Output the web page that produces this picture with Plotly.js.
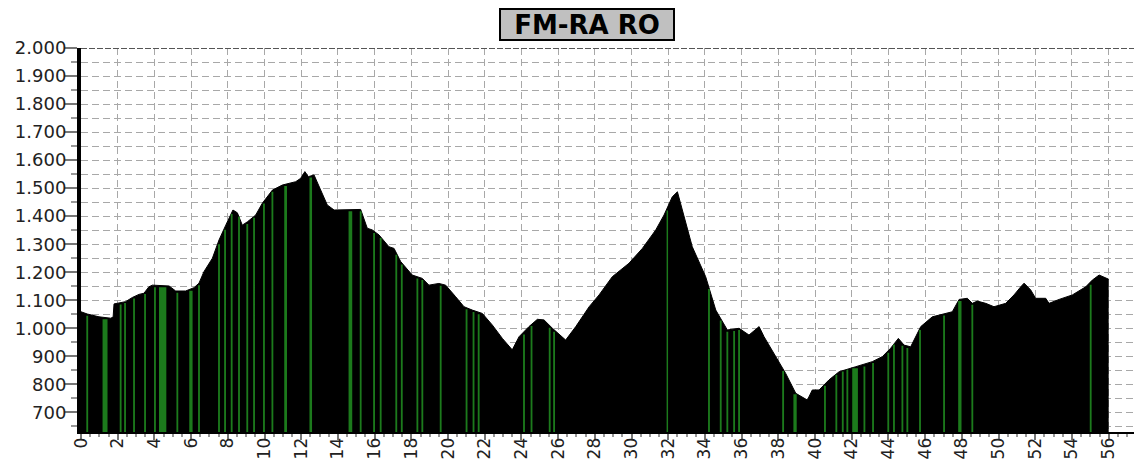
<!DOCTYPE html>
<html>
<head>
<meta charset="utf-8">
<script src="https://cdn.plot.ly/plotly-3.0.1.min.js"></script>
<style>html,body{margin:0;padding:0;background:#fff;}#chart{width:1134px;height:459px;}</style>
</head>
<body>
<div id="chart"></div>
<script>
// Elevation profile (km, metres)
const km = [0,0.34,0.98,1.62,1.75,1.8,2.43,2.8,3.16,3.43,3.7,3.89,4.8,5.16,5.7,6.16,6.43,6.7,7.16,7.52,7.89,8.28,8.52,8.79,9.07,9.52,9.88,10.43,10.97,11.7,11.97,12.2,12.39,12.7,13.42,13.79,15.24,15.6,15.87,16.24,16.78,17.06,17.42,18.05,18.6,18.96,19.5,19.87,20.41,20.87,21.32,21.87,22.41,22.96,23.5,23.87,24.41,24.87,25.23,25.69,26.41,26.96,27.69,28.23,28.95,29.86,30.59,31.32,31.77,32.22,32.5,32.77,33.31,34.04,34.59,35.22,35.86,36.4,36.95,37.22,37.86,38.4,38.95,39.58,39.85,40.22,40.76,41.31,42.22,43.12,43.67,44.12,44.54,44.85,45.21,45.76,46.39,47.12,47.48,47.85,48.3,48.57,48.84,49.3,49.75,50.39,50.84,51.21,51.39,51.75,52.02,52.57,52.75,53.3,54.02,54.75,55.11,55.48,55.93,56.0];
const elev = [1059,1051,1041,1036,1040,1087,1095,1110,1121,1125,1148,1154,1151,1133,1133,1145,1161,1202,1250,1315,1368,1422,1412,1368,1380,1404,1446,1493,1511,1523,1535,1559,1541,1547,1440,1422,1424,1357,1351,1333,1291,1285,1238,1190,1178,1154,1160,1154,1113,1077,1065,1053,1012,964,923,970,1006,1032,1030,1000,958,1006,1077,1119,1184,1232,1285,1351,1404,1469,1487,1422,1291,1184,1065,994,1000,976,1006,970,899,839,768,744,780,780,816,845,863,881,899,929,964,940,934,1006,1041,1053,1059,1103,1107,1089,1097,1089,1077,1089,1119,1148,1161,1137,1107,1107,1089,1103,1119,1148,1172,1190,1175,1175];

// Green markers (km, top elevation, width in km)
const greenKm = [0.34,1.31,2.16,2.40,2.89,3.49,4.03,4.45,5.25,5.99,6.43,7.52,7.85,8.21,8.61,9.06,9.43,9.97,10.43,11.15,12.52,14.68,15.24,15.97,16.33,17.18,17.48,18.33,18.6,19.6,21.01,21.39,21.67,24.14,24.55,25.54,25.78,31.95,34.22,34.86,35.22,35.59,35.86,38.26,38.91,40.54,41.16,41.51,41.76,42.18,42.69,43.16,43.99,44.3,44.76,45.03,45.72,47.03,47.89,48.57,55.02];
const greenTop = [1045,1032,1085,1090,1106,1122,1146,1146,1127,1134,1154,1300,1352,1408,1398,1372,1394,1445,1487,1508,1538,1418,1418,1340,1322,1262,1228,1178,1172,1152,1068,1058,1050,978,1008,1002,988,1420,1140,1028,988,990,994,848,765,795,834,846,852,857,864,876,913,942,938,930,994,1046,1097,1084,1155];
const greenW = [0.1,0.27,0.1,0.1,0.1,0.1,0.1,0.4,0.1,0.18,0.1,0.1,0.1,0.1,0.1,0.1,0.1,0.1,0.1,0.15,0.14,0.2,0.1,0.1,0.1,0.1,0.1,0.1,0.1,0.1,0.1,0.1,0.1,0.1,0.1,0.1,0.1,0.08,0.1,0.1,0.1,0.1,0.1,0.1,0.18,0.1,0.1,0.1,0.1,0.31,0.1,0.1,0.1,0.1,0.1,0.1,0.1,0.1,0.18,0.1,0.1];

const yTickVals = [700,800,900,1000,1100,1200,1300,1400,1500,1600,1700,1800,1900,2000];
const yTickText = ['700','800','900','1.000','1.100','1.200','1.300','1.400','1.500','1.600','1.700','1.800','1.900','2.000'];
const titleText = 'FM-RA RO';

const yMin = 630, yMax = 2000;

const gx = [], gy = [];
for (let i = 0; i < greenKm.length; i++) {
  const a = greenKm[i] - greenW[i] / 2, b = greenKm[i] + greenW[i] / 2;
  gx.push(a, b, b, a, a, null);
  gy.push(yMin, yMin, greenTop[i], greenTop[i], yMin, null);
}

const traces = [
  {x: km, y: elev, type: 'scatter', mode: 'lines', fill: 'tozeroy',
   fillcolor: '#000', line: {color: '#000', width: 1}, hoverinfo: 'skip'},
  {x: gx, y: gy, type: 'scatter', mode: 'lines', fill: 'toself',
   fillcolor: '#1c7a1c', line: {width: 0, color: 'rgba(0,0,0,0)'}, hoverinfo: 'skip'}
];

const gridStyle = {gridcolor: '#a8a8a8', gridwidth: 1, griddash: '7px,4px'};

const layout = {
  width: 1134, height: 459,
  margin: {l: 81, r: 0, t: 48, b: 27, pad: 0},
  paper_bgcolor: '#fff', plot_bgcolor: '#fff',
  showlegend: false,
  xaxis: Object.assign({
    range: [0, 57.38], tickmode: 'linear', tick0: 0, dtick: 2,
    tickangle: -90, ticks: 'outside', ticklen: 6, tickwidth: 2, tickcolor: '#777',
    ticklabelstandoff: -9,
    showline: true, linecolor: '#000', linewidth: 2, zeroline: false,
    showgrid: true, tickfont: {family: 'DejaVu Sans', size: 17, color: '#222'},
    minor: {dtick: 0.5, tick0: 0, ticks: 'outside', ticklen: 3, tickwidth: 2, tickcolor: '#999', showgrid: false}
  }, gridStyle),
  yaxis: Object.assign({
    range: [yMin, yMax], tickmode: 'array', tickvals: yTickVals, ticktext: yTickText,
    ticks: 'outside', ticklen: 13, tickwidth: 2, tickcolor: '#777',
    ticklabelstandoff: -6,
    showline: true, linecolor: '#000', linewidth: 4, zeroline: false,
    showgrid: true, tickfont: {family: 'DejaVu Sans', size: 18, color: '#222'},
    minor: Object.assign({dtick: 50, tick0: 0, ticks: 'outside', ticklen: 6, tickwidth: 2, tickcolor: '#999', showgrid: true}, gridStyle)
  }, gridStyle),
  shapes: [
    {type: 'line', xref: 'paper', yref: 'y', x0: 0, x1: 1, y0: yMax, y1: yMax,
     line: {color: '#555', width: 2, dash: '6px,2px'}}
  ],
  annotations: [
    {text: '<b>' + titleText + '</b>', xref: 'paper', yref: 'paper',
     x: 0.481, y: 1.061, xanchor: 'center', yanchor: 'middle', showarrow: false,
     font: {family: 'DejaVu Sans', size: 26, color: '#000'},
     bgcolor: '#c0c0c0', bordercolor: '#000', borderwidth: 2, borderpad: 1,
     width: 170, height: 27}
  ]
};

Plotly.newPlot('chart', traces, layout, {staticPlot: true, displayModeBar: false});
</script>
</body>
</html>
